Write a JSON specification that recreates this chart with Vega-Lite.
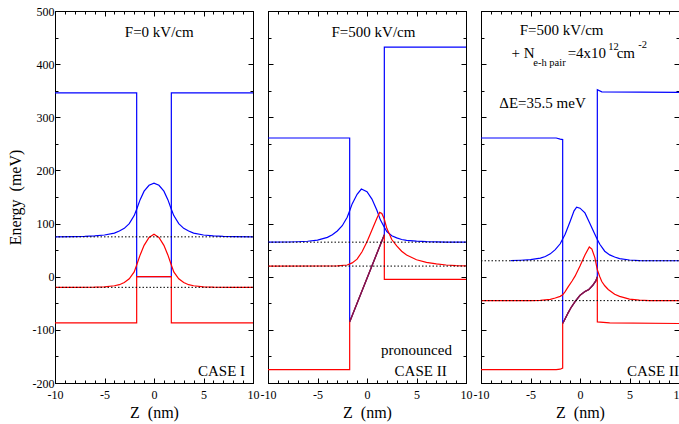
{
"$schema":"https://vega.github.io/schema/vega-lite/v6.json",
"background":"white",
"padding":{"left":6,"top":4,"right":2,"bottom":2},
"bounds":"flush",
"spacing":15,
"config":{"view":{"stroke":"black","strokeWidth":1},"font":"Liberation Serif, Times New Roman, serif",
 "text":{"font":"Liberation Serif, Times New Roman, serif"},
 "axis":{"labelFont":"Liberation Serif, Times New Roman, serif","titleFont":"Liberation Serif, Times New Roman, serif","labelColor":"black","titleColor":"black","labelFontSize":12,"titleFontSize":16,"titleFontWeight":"normal","grid":false,"domain":false,"tickColor":"black","tickWidth":1}},
"datasets":{
"p1":[
{"s":"cb","z":-10,"E":346},{"s":"cb","z":-1.75,"E":346},{"s":"cb","z":-1.75,"E":0},{"s":"cb","z":1.75,"E":0},{"s":"cb","z":1.75,"E":346},{"s":"cb","z":10,"E":346},
{"s":"vb","z":-10,"E":-87},{"s":"vb","z":-1.75,"E":-87},{"s":"vb","z":-1.75,"E":0},{"s":"vb","z":1.75,"E":0},{"s":"vb","z":1.75,"E":-87},{"s":"vb","z":10,"E":-87},
{"s":"wb","z":-10,"E":75},{"s":"wb","z":-8,"E":75.5},{"s":"wb","z":-7,"E":76},{"s":"wb","z":-6,"E":77},{"s":"wb","z":-5,"E":78.5},{"s":"wb","z":-4,"E":82},{"s":"wb","z":-3.5,"E":86},{"s":"wb","z":-3,"E":91},{"s":"wb","z":-2.5,"E":100},{"s":"wb","z":-2,"E":115},{"s":"wb","z":-1.75,"E":127},{"s":"wb","z":-1.4,"E":145},{"s":"wb","z":-1,"E":161},{"s":"wb","z":-0.5,"E":172},{"s":"wb","z":0,"E":176},{"s":"wb","z":0.5,"E":172},{"s":"wb","z":1,"E":161},{"s":"wb","z":1.4,"E":145},{"s":"wb","z":1.75,"E":127},{"s":"wb","z":2,"E":115},{"s":"wb","z":2.5,"E":100},{"s":"wb","z":3,"E":91},{"s":"wb","z":3.5,"E":86},{"s":"wb","z":4,"E":82},{"s":"wb","z":5,"E":78.5},{"s":"wb","z":6,"E":77},{"s":"wb","z":7,"E":76},{"s":"wb","z":8,"E":75.5},{"s":"wb","z":10,"E":75},
{"s":"wr","z":-10,"E":-20},{"s":"wr","z":-8,"E":-20},{"s":"wr","z":-6,"E":-19.7},{"s":"wr","z":-5,"E":-19},{"s":"wr","z":-4,"E":-17},{"s":"wr","z":-3.5,"E":-15},{"s":"wr","z":-3,"E":-11},{"s":"wr","z":-2.5,"E":-4},{"s":"wr","z":-2,"E":9},{"s":"wr","z":-1.75,"E":22},{"s":"wr","z":-1.4,"E":41},{"s":"wr","z":-1,"E":59},{"s":"wr","z":-0.5,"E":74},{"s":"wr","z":0,"E":80},{"s":"wr","z":0.5,"E":74},{"s":"wr","z":1,"E":59},{"s":"wr","z":1.4,"E":41},{"s":"wr","z":1.75,"E":22},{"s":"wr","z":2,"E":9},{"s":"wr","z":2.5,"E":-4},{"s":"wr","z":3,"E":-11},{"s":"wr","z":3.5,"E":-15},{"s":"wr","z":4,"E":-17},{"s":"wr","z":5,"E":-19},{"s":"wr","z":6,"E":-19.7},{"s":"wr","z":8,"E":-20},{"s":"wr","z":10,"E":-20},
{"s":"lb","z":-10,"E":75},{"s":"lb","z":10,"E":75},{"s":"lr","z":-10,"E":-20},{"s":"lr","z":10,"E":-20}
],
"p2":[
{"s":"cb","z":-10,"E":261},{"s":"cb","z":-1.75,"E":261},{"s":"cb","z":-1.75,"E":-85},{"s":"cb","z":1.75,"E":79},{"s":"cb","z":1.75,"E":432},{"s":"cb","z":10,"E":432},
{"s":"vb","z":-10,"E":-175},{"s":"vb","z":-1.75,"E":-175},{"s":"vb","z":-1.75,"E":-85},{"s":"vb","z":1.75,"E":79},{"s":"vb","z":1.75,"E":-5},{"s":"vb","z":10,"E":-5},
{"s":"mx","z":-1.75,"E":-85},{"s":"mx","z":1.75,"E":79},
{"s":"wb","z":-10,"E":65},{"s":"wb","z":-8,"E":65.3},{"s":"wb","z":-7,"E":65.8},{"s":"wb","z":-6,"E":66.7},{"s":"wb","z":-5,"E":69},{"s":"wb","z":-4,"E":74},{"s":"wb","z":-3.5,"E":79},{"s":"wb","z":-3,"E":86},{"s":"wb","z":-2.5,"E":96},{"s":"wb","z":-2,"E":112},{"s":"wb","z":-1.75,"E":124},{"s":"wb","z":-1.5,"E":137},{"s":"wb","z":-1,"E":155},{"s":"wb","z":-0.57,"E":165},{"s":"wb","z":0,"E":160},{"s":"wb","z":0.5,"E":146},{"s":"wb","z":1,"E":125},{"s":"wb","z":1.35,"E":107},{"s":"wb","z":1.75,"E":93},{"s":"wb","z":2,"E":85},{"s":"wb","z":2.5,"E":77},{"s":"wb","z":3,"E":73},{"s":"wb","z":3.5,"E":70},{"s":"wb","z":4,"E":68.5},{"s":"wb","z":5,"E":67},{"s":"wb","z":6,"E":66},{"s":"wb","z":7,"E":65.5},{"s":"wb","z":8,"E":65.2},{"s":"wb","z":10,"E":65},
{"s":"wr","z":-10,"E":20},{"s":"wr","z":-4,"E":20.2},{"s":"wr","z":-3,"E":20.5},{"s":"wr","z":-2,"E":22},{"s":"wr","z":-1.5,"E":26},{"s":"wr","z":-1,"E":33},{"s":"wr","z":-0.5,"E":47},{"s":"wr","z":0,"E":66},{"s":"wr","z":0.5,"E":88},{"s":"wr","z":1,"E":110},{"s":"wr","z":1.28,"E":121},{"s":"wr","z":1.5,"E":119},{"s":"wr","z":1.75,"E":108},{"s":"wr","z":2,"E":91},{"s":"wr","z":2.5,"E":70},{"s":"wr","z":3,"E":58},{"s":"wr","z":3.5,"E":48},{"s":"wr","z":4,"E":41},{"s":"wr","z":5,"E":32},{"s":"wr","z":6,"E":27},{"s":"wr","z":7,"E":24},{"s":"wr","z":8,"E":22},{"s":"wr","z":9,"E":21},{"s":"wr","z":10,"E":20.5},
{"s":"lb","z":-10,"E":65},{"s":"lb","z":10,"E":65},{"s":"lr","z":-10,"E":20},{"s":"lr","z":10,"E":20}
],
"p3":[
{"s":"cb","z":-10,"E":261},{"s":"cb","z":-2.4,"E":261},{"s":"cb","z":-2,"E":259},{"s":"cb","z":-1.75,"E":258},{"s":"cb","z":-1.75,"E":-88},{"s":"cb","z":-1.5,"E":-79},{"s":"cb","z":-1.2,"E":-68},{"s":"cb","z":-0.9,"E":-58},{"s":"cb","z":-0.5,"E":-47},{"s":"cb","z":0,"E":-35},{"s":"cb","z":0.5,"E":-28},{"s":"cb","z":0.9,"E":-24},{"s":"cb","z":1.3,"E":-16},{"s":"cb","z":1.6,"E":-8},{"s":"cb","z":1.75,"E":0},{"s":"cb","z":1.75,"E":352},{"s":"cb","z":2.2,"E":348},{"s":"cb","z":10,"E":347},
{"s":"vb","z":-10,"E":-175},{"s":"vb","z":-2.4,"E":-175},{"s":"vb","z":-2,"E":-174},{"s":"vb","z":-1.75,"E":-172},{"s":"vb","z":-1.75,"E":-88},{"s":"vb","z":-1.5,"E":-79},{"s":"vb","z":-1.2,"E":-68},{"s":"vb","z":-0.9,"E":-58},{"s":"vb","z":-0.5,"E":-47},{"s":"vb","z":0,"E":-35},{"s":"vb","z":0.5,"E":-28},{"s":"vb","z":0.9,"E":-24},{"s":"vb","z":1.3,"E":-16},{"s":"vb","z":1.6,"E":-8},{"s":"vb","z":1.75,"E":0},{"s":"vb","z":1.75,"E":-85},{"s":"vb","z":3,"E":-87},{"s":"vb","z":10,"E":-88},
{"s":"mx","z":-1.75,"E":-88},{"s":"mx","z":-1.5,"E":-79},{"s":"mx","z":-1.2,"E":-68},{"s":"mx","z":-0.9,"E":-58},{"s":"mx","z":-0.5,"E":-47},{"s":"mx","z":0,"E":-35},{"s":"mx","z":0.5,"E":-28},{"s":"mx","z":0.9,"E":-24},{"s":"mx","z":1.3,"E":-16},{"s":"mx","z":1.6,"E":-8},{"s":"mx","z":1.75,"E":0},
{"s":"wb","z":-7,"E":30.3},{"s":"wb","z":-6,"E":31},{"s":"wb","z":-5,"E":32},{"s":"wb","z":-4,"E":35},{"s":"wb","z":-3.5,"E":38},{"s":"wb","z":-3,"E":43},{"s":"wb","z":-2.5,"E":51},{"s":"wb","z":-2,"E":62},{"s":"wb","z":-1.75,"E":71},{"s":"wb","z":-1.5,"E":80},{"s":"wb","z":-1,"E":104},{"s":"wb","z":-0.6,"E":124},{"s":"wb","z":-0.34,"E":131},{"s":"wb","z":0,"E":129},{"s":"wb","z":0.5,"E":120},{"s":"wb","z":1,"E":100},{"s":"wb","z":1.5,"E":80},{"s":"wb","z":1.75,"E":70},{"s":"wb","z":2,"E":61},{"s":"wb","z":2.5,"E":48},{"s":"wb","z":3,"E":41},{"s":"wb","z":3.5,"E":37},{"s":"wb","z":4,"E":34},{"s":"wb","z":5,"E":31.5},{"s":"wb","z":6,"E":30.3},{"s":"wb","z":10,"E":30},
{"s":"wr","z":-10,"E":-45},{"s":"wr","z":-5,"E":-45},{"s":"wr","z":-4,"E":-44.5},{"s":"wr","z":-3,"E":-42.5},{"s":"wr","z":-2.5,"E":-40},{"s":"wr","z":-2,"E":-37},{"s":"wr","z":-1.75,"E":-34},{"s":"wr","z":-1.5,"E":-28},{"s":"wr","z":-1.2,"E":-19},{"s":"wr","z":-0.8,"E":-8},{"s":"wr","z":-0.5,"E":1},{"s":"wr","z":0,"E":20},{"s":"wr","z":0.5,"E":41},{"s":"wr","z":0.94,"E":56},{"s":"wr","z":1.2,"E":52},{"s":"wr","z":1.5,"E":36},{"s":"wr","z":1.75,"E":13},{"s":"wr","z":2,"E":0},{"s":"wr","z":2.2,"E":-9},{"s":"wr","z":2.5,"E":-17},{"s":"wr","z":2.85,"E":-24},{"s":"wr","z":3.5,"E":-33},{"s":"wr","z":4,"E":-37},{"s":"wr","z":5,"E":-42},{"s":"wr","z":6,"E":-44},{"s":"wr","z":7,"E":-45},{"s":"wr","z":10,"E":-45},
{"s":"lb","z":-10,"E":30},{"s":"lb","z":10,"E":30},{"s":"lr","z":-10,"E":-45},{"s":"lr","z":10,"E":-45}
],
"t1":[{"z":0.53,"E":452,"t":"F=0 kV/cm","role":"c"},{"z":9.2,"E":-186,"t":"CASE I","role":"r"}],
"t2":[{"z":0.65,"E":452,"t":"F=500 kV/cm","role":"c"},{"z":5.0,"E":-147,"t":"pronounced","role":"c"},{"z":5.42,"E":-186,"t":"CASE II","role":"c"}],
"t3":[{"z":-1.86,"E":454,"t":"F=500 kV/cm","role":"c"},{"z":-6.91,"E":412,"t":"+ N","role":"l"},{"z":-4.72,"E":397,"t":"e-h pair","role":"s"},{"z":-1.25,"E":412,"t":"=4x10","role":"l"},{"z":2.86,"E":426,"t":"12","role":"s"},{"z":3.7,"E":412,"t":"cm","role":"l"},{"z":5.89,"E":431,"t":"-2","role":"s"},{"z":-8.15,"E":318,"t":"ΔE=35.5 meV","role":"l"},{"z":10.0,"E":-186,"t":"CASE II","role":"r"}]
},
"hconcat":[
{"width":198,"height":372,"resolve":{"axis":{"x":"independent","y":"independent"}},
 "layer":[
  {"data":{"name":"p1"},"transform":[{"filter":"datum.s=='cb'||datum.s=='vb'||datum.s=='wb'||datum.s=='wr'"}],
   "mark":{"type":"line","strokeWidth":1.2},
   "encoding":{
    "x":{"field":"z","type":"quantitative","scale":{"domain":[-10,10],"nice":false,"zero":false},"axis":{"orient":"bottom","ticks":false,"values":[-10,-5,0,5,10],"labelPadding":6,"labelFlush":false,"labelOverlap":false,"labelExpr":"datum.value < 0 ? '-' + abs(datum.value) : '' + datum.value","title":"Z\u00a0\u00a0(nm)","titlePadding":4}},
    "y":{"field":"E","type":"quantitative","scale":{"domain":[-200,500],"nice":false,"zero":false},"axis":{"orient":"left","ticks":false,"values":[-200,-100,0,100,200,300,400,500],"labelPadding":1,"labelFlush":false,"labelOverlap":false,"labelExpr":"datum.value < 0 ? '-' + abs(datum.value) : '' + datum.value","title":"Energy\u00a0\u00a0(meV)","titlePadding":9}},
    "color":{"field":"s","type":"nominal","scale":{"domain":["cb","vb","wb","wr"],"range":["#0000ff","#ff0000","#0000ff","#ff0000"]},"legend":null}}},
  {"data":{"name":"p1"},"transform":[{"filter":"datum.s=='lb'||datum.s=='lr'"}],
   "mark":{"type":"line","strokeWidth":1,"strokeDash":[1.5,2],"color":"black"},
   "encoding":{"x":{"field":"z","type":"quantitative","scale":{"domain":[-10,10],"nice":false,"zero":false},"axis":null},"y":{"field":"E","type":"quantitative","scale":{"domain":[-200,500],"nice":false,"zero":false},"axis":null},"detail":{"field":"s"}}},
  {"data":{"name":"t1"},"transform":[{"filter":"datum.role=='c'"}],"mark":{"type":"text","font":"Liberation Serif, Times New Roman, serif","fontSize":15,"align":"center","baseline":"alphabetic","color":"black"},
   "encoding":{"x":{"field":"z","type":"quantitative","scale":{"domain":[-10,10],"nice":false,"zero":false},"axis":null},"y":{"field":"E","type":"quantitative","scale":{"domain":[-200,500],"nice":false,"zero":false},"axis":null},"text":{"field":"t"}}},
  {"data":{"name":"t1"},"transform":[{"filter":"datum.role=='r'"}],"mark":{"type":"text","font":"Liberation Serif, Times New Roman, serif","fontSize":15,"align":"right","baseline":"alphabetic","color":"black"},
   "encoding":{"x":{"field":"z","type":"quantitative","scale":{"domain":[-10,10],"nice":false,"zero":false},"axis":null},"y":{"field":"E","type":"quantitative","scale":{"domain":[-200,500],"nice":false,"zero":false},"axis":null},"text":{"field":"t"}}},
  {"data":{"name":"p1"},"transform":[{"filter":"datum.s=='lb'"}],"mark":{"type":"point","opacity":0},
   "encoding":{"x":{"field":"z","type":"quantitative","scale":{"domain":[-10,10],"nice":false,"zero":false},"axis":{"orient":"bottom","labels":false,"domain":false,"title":null,"tickSize":-5,"values":[-10,-5,0,5,10]}},"y":{"field":"E","type":"quantitative","scale":{"domain":[-200,500],"nice":false,"zero":false},"axis":{"orient":"left","labels":false,"domain":false,"title":null,"tickSize":-5,"values":[-200,-100,0,100,200,300,400,500]}}}},
  {"data":{"name":"p1"},"transform":[{"filter":"datum.s=='lb'"}],"mark":{"type":"point","opacity":0},
   "encoding":{"x":{"field":"z","type":"quantitative","scale":{"domain":[-10,10],"nice":false,"zero":false},"axis":{"orient":"bottom","labels":false,"domain":false,"title":null,"tickSize":-3,"values":[-10,-9,-8,-7,-6,-5,-4,-3,-2,-1,0,1,2,3,4,5,6,7,8,9,10]}},"y":{"field":"E","type":"quantitative","scale":{"domain":[-200,500],"nice":false,"zero":false},"axis":{"orient":"left","labels":false,"domain":false,"title":null,"tickSize":-3,"values":[-200,-150,-100,-50,0,50,100,150,200,250,300,350,400,450,500]}}}},
  {"data":{"name":"p1"},"transform":[{"filter":"datum.s=='lb'"}],"mark":{"type":"point","opacity":0},
   "encoding":{"x":{"field":"z","type":"quantitative","scale":{"domain":[-10,10],"nice":false,"zero":false},"axis":{"orient":"top","labels":false,"domain":false,"title":null,"tickSize":-5,"values":[-10,-5,0,5,10]}},"y":{"field":"E","type":"quantitative","scale":{"domain":[-200,500],"nice":false,"zero":false},"axis":{"orient":"right","labels":false,"domain":false,"title":null,"tickSize":-5,"values":[-200,-100,0,100,200,300,400,500]}}}},
  {"data":{"name":"p1"},"transform":[{"filter":"datum.s=='lb'"}],"mark":{"type":"point","opacity":0},
   "encoding":{"x":{"field":"z","type":"quantitative","scale":{"domain":[-10,10],"nice":false,"zero":false},"axis":{"orient":"top","labels":false,"domain":false,"title":null,"tickSize":-3,"values":[-10,-9,-8,-7,-6,-5,-4,-3,-2,-1,0,1,2,3,4,5,6,7,8,9,10]}},"y":{"field":"E","type":"quantitative","scale":{"domain":[-200,500],"nice":false,"zero":false},"axis":{"orient":"right","labels":false,"domain":false,"title":null,"tickSize":-3,"values":[-200,-150,-100,-50,0,50,100,150,200,250,300,350,400,450,500]}}}}
 ]},
{"width":198,"height":372,"resolve":{"axis":{"x":"independent","y":"independent"}},
 "layer":[
  {"data":{"name":"p2"},"transform":[{"filter":"datum.s=='cb'||datum.s=='vb'||datum.s=='wb'||datum.s=='wr'"}],
   "mark":{"type":"line","strokeWidth":1.2},
   "encoding":{
    "x":{"field":"z","type":"quantitative","scale":{"domain":[-10,10],"nice":false,"zero":false},"axis":{"orient":"bottom","ticks":false,"values":[-10,-5,0,5,10],"labelPadding":6,"labelFlush":false,"labelOverlap":false,"labelExpr":"datum.value < 0 ? '-' + abs(datum.value) : '' + datum.value","title":"Z\u00a0\u00a0(nm)","titlePadding":4}},
    "y":{"field":"E","type":"quantitative","scale":{"domain":[-200,500],"nice":false,"zero":false},"axis":null},
    "color":{"field":"s","type":"nominal","scale":{"domain":["cb","vb","wb","wr"],"range":["#0000ff","#ff0000","#0000ff","#ff0000"]},"legend":null}}},
  {"data":{"name":"p2"},"transform":[{"filter":"datum.s=='mx'"}],
   "mark":{"type":"line","strokeWidth":1.3,"color":"#7a1a50"},
   "encoding":{"x":{"field":"z","type":"quantitative","scale":{"domain":[-10,10],"nice":false,"zero":false},"axis":null},"y":{"field":"E","type":"quantitative","scale":{"domain":[-200,500],"nice":false,"zero":false},"axis":null}}},
  {"data":{"name":"p2"},"transform":[{"filter":"datum.s=='lb'||datum.s=='lr'"}],
   "mark":{"type":"line","strokeWidth":1,"strokeDash":[1.5,2],"color":"black"},
   "encoding":{"x":{"field":"z","type":"quantitative","scale":{"domain":[-10,10],"nice":false,"zero":false},"axis":null},"y":{"field":"E","type":"quantitative","scale":{"domain":[-200,500],"nice":false,"zero":false},"axis":null},"detail":{"field":"s"}}},
  {"data":{"name":"t2"},"transform":[{"filter":"datum.role=='c'"}],"mark":{"type":"text","font":"Liberation Serif, Times New Roman, serif","fontSize":15,"align":"center","baseline":"alphabetic","color":"black"},
   "encoding":{"x":{"field":"z","type":"quantitative","scale":{"domain":[-10,10],"nice":false,"zero":false},"axis":null},"y":{"field":"E","type":"quantitative","scale":{"domain":[-200,500],"nice":false,"zero":false},"axis":null},"text":{"field":"t"}}},
  {"data":{"name":"p2"},"transform":[{"filter":"datum.s=='lb'"}],"mark":{"type":"point","opacity":0},
   "encoding":{"x":{"field":"z","type":"quantitative","scale":{"domain":[-10,10],"nice":false,"zero":false},"axis":{"orient":"bottom","labels":false,"domain":false,"title":null,"tickSize":-5,"values":[-10,-5,0,5,10]}},"y":{"field":"E","type":"quantitative","scale":{"domain":[-200,500],"nice":false,"zero":false},"axis":{"orient":"left","labels":false,"domain":false,"title":null,"tickSize":-5,"values":[-200,-100,0,100,200,300,400,500]}}}},
  {"data":{"name":"p2"},"transform":[{"filter":"datum.s=='lb'"}],"mark":{"type":"point","opacity":0},
   "encoding":{"x":{"field":"z","type":"quantitative","scale":{"domain":[-10,10],"nice":false,"zero":false},"axis":{"orient":"bottom","labels":false,"domain":false,"title":null,"tickSize":-3,"values":[-10,-9,-8,-7,-6,-5,-4,-3,-2,-1,0,1,2,3,4,5,6,7,8,9,10]}},"y":{"field":"E","type":"quantitative","scale":{"domain":[-200,500],"nice":false,"zero":false},"axis":{"orient":"left","labels":false,"domain":false,"title":null,"tickSize":-3,"values":[-200,-150,-100,-50,0,50,100,150,200,250,300,350,400,450,500]}}}},
  {"data":{"name":"p2"},"transform":[{"filter":"datum.s=='lb'"}],"mark":{"type":"point","opacity":0},
   "encoding":{"x":{"field":"z","type":"quantitative","scale":{"domain":[-10,10],"nice":false,"zero":false},"axis":{"orient":"top","labels":false,"domain":false,"title":null,"tickSize":-5,"values":[-10,-5,0,5,10]}},"y":{"field":"E","type":"quantitative","scale":{"domain":[-200,500],"nice":false,"zero":false},"axis":{"orient":"right","labels":false,"domain":false,"title":null,"tickSize":-5,"values":[-200,-100,0,100,200,300,400,500]}}}},
  {"data":{"name":"p2"},"transform":[{"filter":"datum.s=='lb'"}],"mark":{"type":"point","opacity":0},
   "encoding":{"x":{"field":"z","type":"quantitative","scale":{"domain":[-10,10],"nice":false,"zero":false},"axis":{"orient":"top","labels":false,"domain":false,"title":null,"tickSize":-3,"values":[-10,-9,-8,-7,-6,-5,-4,-3,-2,-1,0,1,2,3,4,5,6,7,8,9,10]}},"y":{"field":"E","type":"quantitative","scale":{"domain":[-200,500],"nice":false,"zero":false},"axis":{"orient":"right","labels":false,"domain":false,"title":null,"tickSize":-3,"values":[-200,-150,-100,-50,0,50,100,150,200,250,300,350,400,450,500]}}}}
 ]},
{"width":198,"height":372,"resolve":{"axis":{"x":"independent","y":"independent"}},
 "layer":[
  {"data":{"name":"p3"},"transform":[{"filter":"datum.s=='cb'||datum.s=='vb'||datum.s=='wb'||datum.s=='wr'"}],
   "mark":{"type":"line","strokeWidth":1.2},
   "encoding":{
    "x":{"field":"z","type":"quantitative","scale":{"domain":[-10,10],"nice":false,"zero":false},"axis":{"orient":"bottom","ticks":false,"values":[-10,-5,0,5,10],"labelPadding":6,"labelFlush":false,"labelOverlap":false,"labelExpr":"datum.value < 0 ? '-' + abs(datum.value) : '' + datum.value","title":"Z\u00a0\u00a0(nm)","titlePadding":4}},
    "y":{"field":"E","type":"quantitative","scale":{"domain":[-200,500],"nice":false,"zero":false},"axis":null},
    "color":{"field":"s","type":"nominal","scale":{"domain":["cb","vb","wb","wr"],"range":["#0000ff","#ff0000","#0000ff","#ff0000"]},"legend":null}}},
  {"data":{"name":"p3"},"transform":[{"filter":"datum.s=='mx'"}],
   "mark":{"type":"line","strokeWidth":1.3,"color":"#7a1a50"},
   "encoding":{"x":{"field":"z","type":"quantitative","scale":{"domain":[-10,10],"nice":false,"zero":false},"axis":null},"y":{"field":"E","type":"quantitative","scale":{"domain":[-200,500],"nice":false,"zero":false},"axis":null}}},
  {"data":{"name":"p3"},"transform":[{"filter":"datum.s=='lb'||datum.s=='lr'"}],
   "mark":{"type":"line","strokeWidth":1,"strokeDash":[1.5,2],"color":"black"},
   "encoding":{"x":{"field":"z","type":"quantitative","scale":{"domain":[-10,10],"nice":false,"zero":false},"axis":null},"y":{"field":"E","type":"quantitative","scale":{"domain":[-200,500],"nice":false,"zero":false},"axis":null},"detail":{"field":"s"}}},
  {"data":{"name":"t3"},"transform":[{"filter":"datum.role=='c'"}],"mark":{"type":"text","font":"Liberation Serif, Times New Roman, serif","fontSize":15,"align":"center","baseline":"alphabetic","color":"black"},
   "encoding":{"x":{"field":"z","type":"quantitative","scale":{"domain":[-10,10],"nice":false,"zero":false},"axis":null},"y":{"field":"E","type":"quantitative","scale":{"domain":[-200,500],"nice":false,"zero":false},"axis":null},"text":{"field":"t"}}},
  {"data":{"name":"t3"},"transform":[{"filter":"datum.role=='l'"}],"mark":{"type":"text","font":"Liberation Serif, Times New Roman, serif","fontSize":15,"align":"left","baseline":"alphabetic","color":"black"},
   "encoding":{"x":{"field":"z","type":"quantitative","scale":{"domain":[-10,10],"nice":false,"zero":false},"axis":null},"y":{"field":"E","type":"quantitative","scale":{"domain":[-200,500],"nice":false,"zero":false},"axis":null},"text":{"field":"t"}}},
  {"data":{"name":"t3"},"transform":[{"filter":"datum.role=='s'"}],"mark":{"type":"text","font":"Liberation Serif, Times New Roman, serif","fontSize":10.5,"align":"left","baseline":"alphabetic","color":"black"},
   "encoding":{"x":{"field":"z","type":"quantitative","scale":{"domain":[-10,10],"nice":false,"zero":false},"axis":null},"y":{"field":"E","type":"quantitative","scale":{"domain":[-200,500],"nice":false,"zero":false},"axis":null},"text":{"field":"t"}}},
  {"data":{"name":"t3"},"transform":[{"filter":"datum.role=='r'"}],"mark":{"type":"text","font":"Liberation Serif, Times New Roman, serif","fontSize":15,"align":"right","baseline":"alphabetic","color":"black"},
   "encoding":{"x":{"field":"z","type":"quantitative","scale":{"domain":[-10,10],"nice":false,"zero":false},"axis":null},"y":{"field":"E","type":"quantitative","scale":{"domain":[-200,500],"nice":false,"zero":false},"axis":null},"text":{"field":"t"}}},
  {"data":{"name":"p3"},"transform":[{"filter":"datum.s=='lb'"}],"mark":{"type":"point","opacity":0},
   "encoding":{"x":{"field":"z","type":"quantitative","scale":{"domain":[-10,10],"nice":false,"zero":false},"axis":{"orient":"bottom","labels":false,"domain":false,"title":null,"tickSize":-5,"values":[-10,-5,0,5,10]}},"y":{"field":"E","type":"quantitative","scale":{"domain":[-200,500],"nice":false,"zero":false},"axis":{"orient":"left","labels":false,"domain":false,"title":null,"tickSize":-5,"values":[-200,-100,0,100,200,300,400,500]}}}},
  {"data":{"name":"p3"},"transform":[{"filter":"datum.s=='lb'"}],"mark":{"type":"point","opacity":0},
   "encoding":{"x":{"field":"z","type":"quantitative","scale":{"domain":[-10,10],"nice":false,"zero":false},"axis":{"orient":"bottom","labels":false,"domain":false,"title":null,"tickSize":-3,"values":[-10,-9,-8,-7,-6,-5,-4,-3,-2,-1,0,1,2,3,4,5,6,7,8,9,10]}},"y":{"field":"E","type":"quantitative","scale":{"domain":[-200,500],"nice":false,"zero":false},"axis":{"orient":"left","labels":false,"domain":false,"title":null,"tickSize":-3,"values":[-200,-150,-100,-50,0,50,100,150,200,250,300,350,400,450,500]}}}},
  {"data":{"name":"p3"},"transform":[{"filter":"datum.s=='lb'"}],"mark":{"type":"point","opacity":0},
   "encoding":{"x":{"field":"z","type":"quantitative","scale":{"domain":[-10,10],"nice":false,"zero":false},"axis":{"orient":"top","labels":false,"domain":false,"title":null,"tickSize":-5,"values":[-10,-5,0,5,10]}},"y":{"field":"E","type":"quantitative","scale":{"domain":[-200,500],"nice":false,"zero":false},"axis":{"orient":"right","labels":false,"domain":false,"title":null,"tickSize":-5,"values":[-200,-100,0,100,200,300,400,500]}}}},
  {"data":{"name":"p3"},"transform":[{"filter":"datum.s=='lb'"}],"mark":{"type":"point","opacity":0},
   "encoding":{"x":{"field":"z","type":"quantitative","scale":{"domain":[-10,10],"nice":false,"zero":false},"axis":{"orient":"top","labels":false,"domain":false,"title":null,"tickSize":-3,"values":[-10,-9,-8,-7,-6,-5,-4,-3,-2,-1,0,1,2,3,4,5,6,7,8,9,10]}},"y":{"field":"E","type":"quantitative","scale":{"domain":[-200,500],"nice":false,"zero":false},"axis":{"orient":"right","labels":false,"domain":false,"title":null,"tickSize":-3,"values":[-200,-150,-100,-50,0,50,100,150,200,250,300,350,400,450,500]}}}}
 ]}
]
}
